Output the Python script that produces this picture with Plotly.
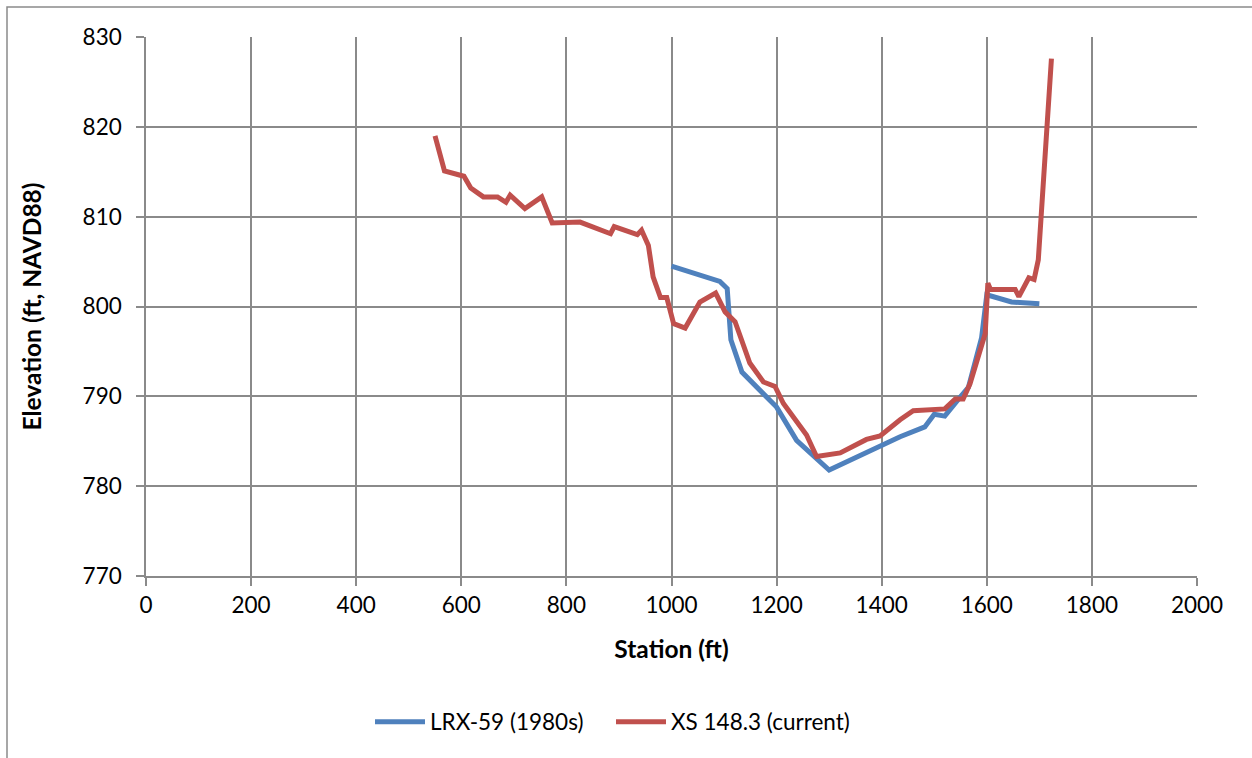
import plotly.graph_objects as go

# LRX-59 (1980s)
lrx_station = [1000, 1092, 1106, 1113, 1134, 1200, 1238, 1300, 1435, 1482, 1500, 1520, 1545, 1565, 1590, 1600, 1647, 1700]
lrx_elev = [804.5, 802.8, 802.0, 796.3, 792.7, 788.8, 785.1, 781.8, 785.5, 786.6, 788.0, 787.8, 789.6, 791.0, 796.5, 801.3, 800.5, 800.3]

# XS 148.3 (current)
xs_station = [550, 568, 605, 618, 642, 669, 685, 693, 721, 753, 773, 826, 884, 891, 935, 943, 956, 965,
              979, 991, 1004, 1026, 1054, 1084, 1102, 1121, 1149, 1175, 1197, 1213, 1257, 1276, 1321,
              1371, 1397, 1435, 1460, 1500, 1520, 1540, 1555, 1568, 1590, 1597, 1602, 1607, 1654, 1661,
              1680, 1690, 1698, 1711, 1723]
xs_elev = [819.0, 815.1, 814.5, 813.2, 812.2, 812.2, 811.6, 812.4, 810.9, 812.2, 809.3, 809.4, 808.1, 808.9,
           808.0, 808.5, 806.8, 803.3, 801.0, 801.0, 798.1, 797.6, 800.5, 801.5, 799.4, 798.3, 793.7, 791.6,
           791.1, 789.2, 785.7, 783.3, 783.7, 785.2, 785.6, 787.4, 788.4, 788.5, 788.6, 789.7, 789.7, 791.4,
           795.8, 797.0, 802.6, 801.9, 801.9, 801.1, 803.2, 803.0, 805.2, 815.9, 827.6]

x_ticks = [0, 200, 400, 600, 800, 1000, 1200, 1400, 1600, 1800, 2000]
y_ticks = [770, 780, 790, 800, 810, 820, 830]

FONT = "Lato"
GRID = "#8a8a8a"

fig = go.Figure()
fig.add_trace(go.Scatter(x=lrx_station, y=lrx_elev, mode="lines", name="LRX-59 (1980s)",
                         line=dict(color="#4F81BD", width=5), legend="legend"))
fig.add_trace(go.Scatter(x=xs_station, y=xs_elev, mode="lines", name="XS 148.3 (current)",
                         line=dict(color="#C0504D", width=5), legend="legend2"))

L, R, T, B = 146, 55, 37, 182
W, H = 1252, 758
pw = W - L - R
ph = H - T - B

leg_y = -(722 - (T + ph)) / ph
leg_common = dict(orientation="h", xanchor="left", y=leg_y, yanchor="middle",
                  font=dict(family=FONT, size=22.5), itemwidth=50, bgcolor="rgba(0,0,0,0)")

fig.update_layout(
    width=W, height=H,
    margin=dict(l=L, r=R, t=T, b=B, pad=0),
    paper_bgcolor="white", plot_bgcolor="white",
    font=dict(family=FONT, size=22.5, color="black"),
    xaxis=dict(range=[0, 2000], tickvals=x_ticks, ticktext=[str(v) for v in x_ticks],
               showgrid=True, gridcolor=GRID, gridwidth=1.5, zeroline=False,
               showline=True, linecolor=GRID, linewidth=1.5, mirror=False,
               ticks="outside", ticklen=8, tickwidth=1.5, tickcolor=GRID,
               title=dict(text="<b>Station (ft)</b>", font=dict(family=FONT, size=24.5), standoff=24),
               tickfont=dict(family=FONT, size=22.5)),
    yaxis=dict(range=[770, 830], tickvals=y_ticks, ticktext=[str(v) for v in y_ticks],
               showgrid=True, gridcolor=GRID, gridwidth=1.5, zeroline=False,
               showline=True, linecolor=GRID, linewidth=1.5,
               ticks="outside", ticklen=8, tickwidth=1.5, tickcolor=GRID, ticklabelstandoff=10,
               title=dict(text="<b>Elevation (ft, NAVD88)</b>", font=dict(family=FONT, size=24.5), standoff=34),
               tickfont=dict(family=FONT, size=22.5)),
    legend=dict(x=(370 - L) / pw, **leg_common),
    legend2=dict(x=(611 - L) / pw, **leg_common),
    showlegend=True,
)

# outer chart border
fig.add_shape(type="rect", xref="paper", yref="paper",
              x0=(7 - L) / pw, x1=(W + 10 - L) / pw,
              y0=-(H + 10 - (T + ph)) / ph, y1=(T + ph - 7) / ph,
              line=dict(color=GRID, width=1.5), fillcolor="rgba(0,0,0,0)", layer="below")

fig.write_html("out.html")
